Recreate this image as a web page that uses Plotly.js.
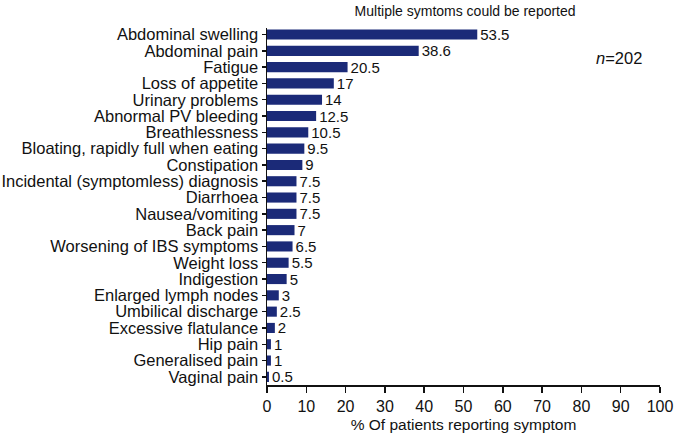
<!DOCTYPE html>
<html><head><meta charset="utf-8">
<script src="https://cdn.plot.ly/plotly-3.0.1.min.js"></script>
<style>html,body{margin:0;padding:0;background:#fff}#chart{width:678px;height:436px}</style>
</head><body><div id="chart"></div>
<script>
const symptoms = ["Abdominal swelling","Abdominal pain","Fatigue","Loss of appetite","Urinary problems","Abnormal PV bleeding","Breathlessness","Bloating, rapidly full when eating","Constipation","Incidental (symptomless) diagnosis","Diarrhoea","Nausea/vomiting","Back pain","Worsening of IBS symptoms","Weight loss","Indigestion","Enlarged lymph nodes","Umbilical discharge","Excessive flatulance","Hip pain","Generalised pain","Vaginal pain"];
const percents = [53.5,38.6,20.5,17,14,12.5,10.5,9.5,9,7.5,7.5,7.5,7,6.5,5.5,5,3,2.5,2,1,1,0.5];
const xTicks = [0,10,20,30,40,50,60,70,80,90,100];

const font = 'Arial, "Liberation Sans", sans-serif';
const trace = {
  type: 'bar', orientation: 'h',
  x: percents, y: symptoms,
  marker: {color: '#1b2a78', line: {width: 0}},
  text: percents.map(String), textposition: 'outside', constraintext: 'none',
  textfont: {family: font, size: 15, color: '#111'},
  cliponaxis: false, width: 0.62, hoverinfo: 'none'
};
const layout = {
  width: 678, height: 436,
  margin: {l: 267, r: 18, t: 28, b: 51},
  paper_bgcolor: '#fff', plot_bgcolor: '#fff',
  font: {family: font, size: 14, color: '#111'},
  showlegend: false,
  title: {text: 'Multiple symtoms could be reported', x: 0.686, xanchor: 'center', y: 0.975, yanchor: 'middle', font: {family: font, size: 14, color: '#111'}},
  xaxis: {range: [0, 100], tickvals: xTicks, ticktext: xTicks.map(String), showgrid: false, zeroline: false,
    showline: true, linecolor: '#111', linewidth: 1.5, ticks: 'outside', ticklen: 6, tickcolor: '#111', tickwidth: 1.5,
    tickfont: {family: font, size: 16, color: '#111'},
    title: {text: '% Of patients reporting symptom', standoff: 5, font: {family: font, size: 15.5, color: '#111'}}},
  yaxis: {type: 'category', categoryorder: 'array', categoryarray: symptoms, range: [21.5, -0.4], showgrid: false,
    tickmode: 'array', tickvals: symptoms, ticktext: symptoms,
    showline: true, linecolor: '#111', linewidth: 1.5, ticks: 'outside', ticklen: 4, tickcolor: '#111', tickwidth: 1.5,
    tickfont: {family: font, size: 16.5, color: '#111'}, automargin: false},
  annotations: [{xref: 'paper', yref: 'paper', x: 0.895, y: 0.915, xanchor: 'center', yanchor: 'middle', showarrow: false,
    text: '<i>n</i>=202', font: {family: font, size: 16.5, color: '#111'}}]
};
Plotly.newPlot('chart', [trace], layout, {displayModeBar: false, staticPlot: true});
</script></body></html>
